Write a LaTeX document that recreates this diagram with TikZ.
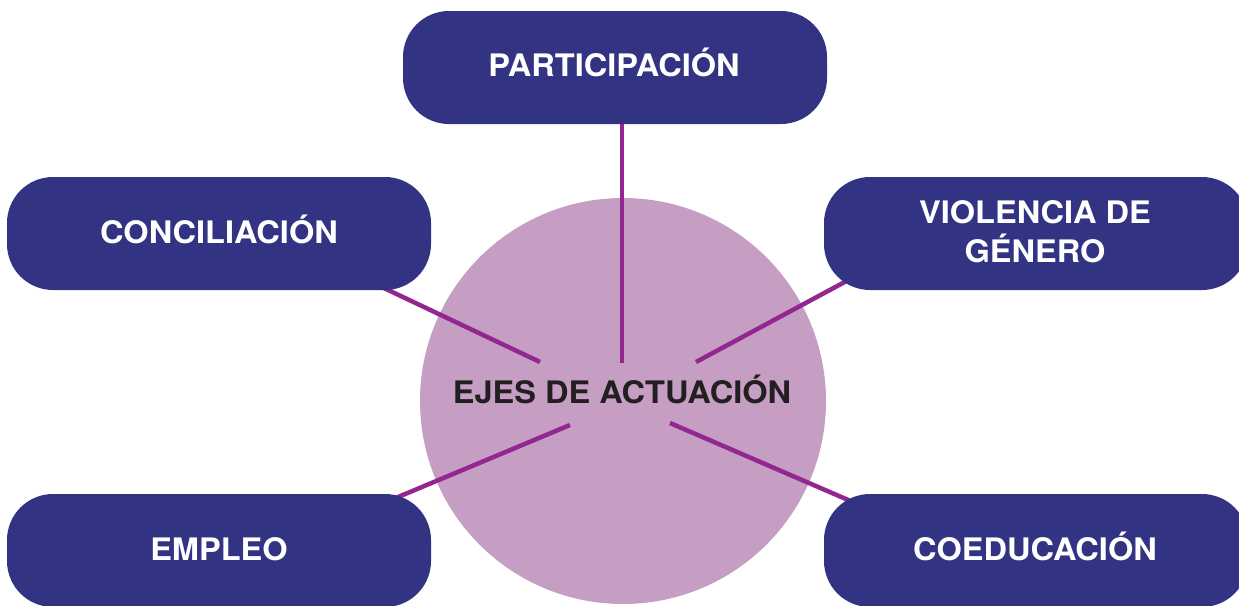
\documentclass[tikz,border=0pt]{standalone}
\usepackage{fontspec}
\setmainfont{TeX Gyre Heros}[FakeStretch=1.05]
\definecolor{boxblue}{RGB}{50,51,130}
\definecolor{circlepink}{RGB}{198,158,196}
\definecolor{linepurple}{RGB}{147,39,143}
\definecolor{textdark}{RGB}{35,31,32}
\begin{document}
\begin{tikzpicture}[x=1pt,y=-1pt,
  axisbox/.style={fill=boxblue, draw=none, rounded corners=46pt, minimum width=424pt, minimum height=113pt, inner sep=0pt},
  boxlabel/.style={text=white, font=\fontsize{31}{38.5}\selectfont\bfseries, inner sep=0pt, anchor=base},
  spoke/.style={draw=linepurple, line width=4.5pt},
  hub/.style={circle, fill=circlepink, draw=none, minimum size=406pt, inner sep=0pt}
]
\useasboundingbox (0,0) rectangle (1239,605);
\clip (0,0) rectangle (1239,605);
% hub circle
\node[hub] (hub) at (623,401) {};
% spoke end points
\coordinate (t1) at (622,363);  \coordinate (t2) at (622,110);
\coordinate (ul1) at (540,362); \coordinate (ul2) at (367,280);
\coordinate (ur1) at (696,362); \coordinate (ur2) at (867,270);
\coordinate (ll1) at (570,425); \coordinate (ll2) at (367,510);
\coordinate (lr1) at (670,423); \coordinate (lr2) at (876,512);
\draw[spoke] (t1) -- (t2);
\draw[spoke] (ul1) -- (ul2);
\draw[spoke] (ur1) -- (ur2);
\draw[spoke] (ll1) -- (ll2);
\draw[spoke] (lr1) -- (lr2);
% boxes
\node[axisbox] (part) at (615,67.5) {};
\node[axisbox] (conc) at (219,233.5) {};
\node[axisbox] (viol) at (1036,233.5) {};
\node[axisbox] (empl) at (219,550.5) {};
\node[axisbox] (coed) at (1036,550.5) {};
% labels
\node[boxlabel] (partl) at (614,76) {PARTICIPACIÓN};
\node[boxlabel] (concl) at (219,243) {CONCILIACIÓN};
\node[boxlabel] (viol1) at (1035,223) {VIOLENCIA DE};
\node[boxlabel] (viol2) at (1035,262) {GÉNERO};
\node[boxlabel] (empll) at (219,560) {EMPLEO};
\node[boxlabel] (coedl) at (1035,560) {COEDUCACIÓN};
\node[text=textdark, font=\fontsize{31}{38}\selectfont\bfseries, inner sep=0pt, anchor=base] (hubl) at (622,403) {EJES DE ACTUACIÓN};
\end{tikzpicture}
\end{document}
